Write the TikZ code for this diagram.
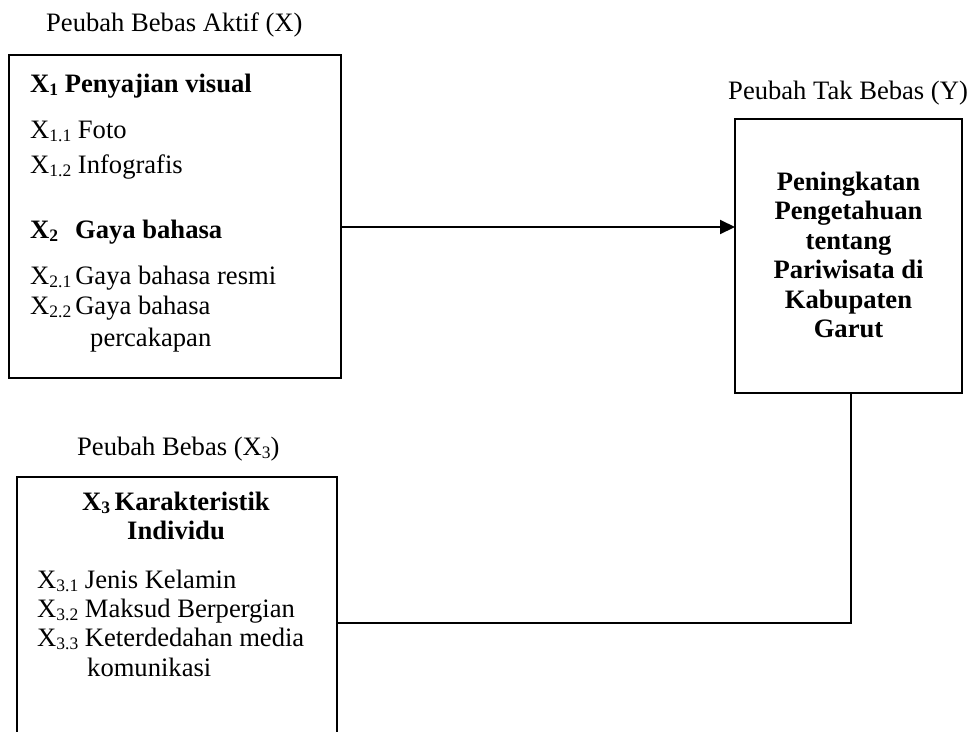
\documentclass[tikz,border=0pt]{standalone}
\usepackage{fontspec}
\setmainfont{Liberation Serif}
\usetikzlibrary{arrows.meta}
\newcommand\sbx[1]{\raisebox{-3.5pt}{\fontsize{17.5}{17.5}\selectfont #1}}
\begin{document}
\begin{tikzpicture}[x=1pt,y=-1pt,
  box/.style={draw, line width=1.5pt, inner sep=0pt, outer sep=0pt},
  txt/.style={anchor=base west, inner sep=0pt, font=\fontsize{26.6}{29.5}\selectfont},
  ctxt/.style={anchor=base, inner sep=0pt, font=\fontsize{26.6}{29.5}\selectfont},
  arr/.style={line width=2pt, -{Triangle[length=15pt,width=14pt]}},
  link/.style={line width=1.5pt}]
\useasboundingbox (0,0) rectangle (973,731);
\begin{scope}
\clip (0,0) rectangle (973,731);
% boxes
\node[box, minimum width=332pt, minimum height=323pt] (b1) at (175,216.5) {};
\node[box, minimum width=320pt, minimum height=290pt] (b2) at (177,622) {};
\node[box, minimum width=227pt, minimum height=274pt] (by) at (848.5,256) {};
% labels above boxes
\node[txt] (lx) at (46,31) {Peubah Bebas Aktif (X)};
\node[txt] (ly) at (728,99) {Peubah Tak Bebas (Y)};
\node[txt] (lx3) at (77,455) {Peubah Bebas (X\sbx{3})};
% box 1 text
\node[txt] (t1) at (30,92) {\textbf{X\sbx{1} Penyajian visual}};
\node[txt] (t2) at (30,138) {X\sbx{1.1} Foto};
\node[txt] (t3) at (30,173) {X\sbx{1.2} Infografis};
\node[txt] (t4) at (30,238) {\textbf{X\sbx{2}\hspace{17pt}Gaya bahasa}};
\node[txt] (t5) at (30,284) {X\sbx{2.1}\hspace{4pt}Gaya bahasa resmi};
\node[txt] (t6) at (30,314) {X\sbx{2.2}\hspace{4pt}Gaya bahasa};
\node[txt] (t7) at (90,346) {percakapan};
% box Y text
\node[ctxt] (ty) at (848.5,190) {\begin{tabular}[t]{@{}c@{}}\bfseries Peningkatan\\ \bfseries Pengetahuan\\ \bfseries tentang\\ \bfseries Pariwisata di\\ \bfseries Kabupaten\\ \bfseries Garut\end{tabular}};
% box 2 text
\node[ctxt] (s1) at (176,510) {\begin{tabular}[t]{@{}c@{}}\bfseries X\sbx{3}\,Karakteristik\\ \bfseries Individu\end{tabular}};
\node[txt] (s2) at (37,588) {X\sbx{3.1} Jenis Kelamin};
\node[txt] (s3) at (37,617) {X\sbx{3.2} Maksud Berpergian};
\node[txt] (s4) at (37,646) {X\sbx{3.3} Keterdedahan media};
\node[txt] (s5) at (87,676) {komunikasi};
% connectors
\coordinate (ay) at (0,227);
\coordinate (c) at (851,623);
\draw[arr] (b1.east |- ay) -- (by.west |- ay);
\draw[link] (by.south -| c) -- (c) -- (b2.east |- c);
\end{scope}
\end{tikzpicture}
\end{document}
